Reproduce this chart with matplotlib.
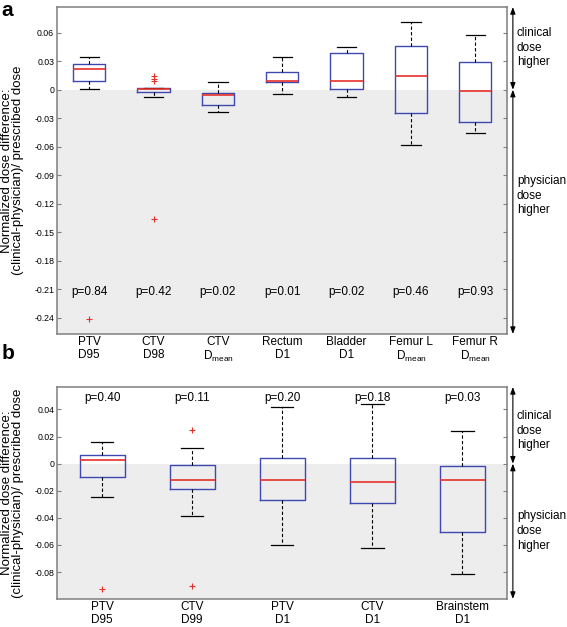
import matplotlib
matplotlib.use('Agg')
import matplotlib.pyplot as plt
import numpy as np

plt.rcParams['font.family'] = ['Liberation Sans', 'DejaVu Sans']
plt.rcParams['mathtext.fontset'] = 'custom'
plt.rcParams['mathtext.rm'] = 'Liberation Sans'
plt.rcParams['mathtext.it'] = 'Liberation Sans:italic'
plt.rcParams['axes.unicode_minus'] = False

# panel a data
labels_a = ['PTV\nD95', 'CTV\nD98', 'CTV\nD$_{\\mathrm{mean}}$', 'Rectum\nD1',
            'Bladder\nD1', 'Femur L\nD$_{\\mathrm{mean}}$', 'Femur R\nD$_{\\mathrm{mean}}$']
med_a = [0.022, 0.001, -0.006, 0.009, 0.009, 0.014, -0.0015]
q1_a = [0.009, -0.002, -0.016, 0.008, 0.0003, -0.025, -0.034]
q3_a = [0.0275, 0.002, -0.0036, 0.019, 0.039, 0.046, 0.029]
wlo_a = [0.001, -0.008, -0.023, -0.005, -0.008, -0.058, -0.046]
whi_a = [0.0345, 0.002, 0.0077, 0.034, 0.045, 0.0717, 0.058]
fliers_a = [[-0.241], [0.014, 0.0117, 0.009, -0.136], [], [], [], [], []]
pvals_a = ['0.84', '0.42', '0.02', '0.01', '0.02', '0.46', '0.93']
yticks_a = [-0.24, -0.21, -0.18, -0.15, -0.12, -0.09, -0.06, -0.03, 0, 0.03, 0.06]
yticklabels_a = ['-0.24', '-0.21', '-0.18', '-0.15', '-0.12', '-0.09', '-0.06',
                 '-0.03', '0', '0.03', '0.06']

# panel b data
labels_b = ['PTV\nD95', 'CTV\nD99', 'PTV\nD1', 'CTV\nD1', 'Brainstem\nD1']
med_b = [0.0024, -0.0123, -0.012, -0.0132, -0.0118]
q1_b = [-0.0101, -0.0184, -0.0265, -0.0287, -0.0506]
q3_b = [0.0066, -0.0012, 0.0039, 0.0042, -0.0015]
wlo_b = [-0.0248, -0.0383, -0.0604, -0.0623, -0.0812]
whi_b = [0.016, 0.0115, 0.042, 0.0437, 0.0241]
fliers_b = [[-0.0922], [0.025, -0.0903], [], [], []]
pvals_b = ['0.40', '0.11', '0.20', '0.18', '0.03']
yticks_b = [-0.08, -0.06, -0.04, -0.02, 0, 0.02, 0.04]
yticklabels_b = ['-0.08', '-0.06', '-0.04', '-0.02', '0', '0.02', '0.04']

box_col = '#3f48b0'
med_col = '#e8302a'
spine_col = '#7f7f7f'
shade_col = '#ededed'
ylab = 'Normalized dose difference:\n(clinical-physician)/ prescribed dose'


def make_stats(labels, med, q1, q3, wlo, whi, fliers):
    stats = []
    for i in range(len(labels)):
        stats.append(dict(med=med[i], q1=q1[i], q3=q3[i], whislo=wlo[i],
                          whishi=whi[i], fliers=fliers[i], label=labels[i]))
    return stats


def draw_panel(ax, stats, pvals, ylim, yticks, yticklabels, ptext_y,
               clin_y, phys_y, capw):
    n = len(stats)
    ax.axhspan(ylim[0], 0, color=shade_col, zorder=0, lw=0)
    ax.bxp(stats, widths=0.5, capwidths=capw, manage_ticks=True,
           boxprops=dict(color=box_col, lw=1.0),
           medianprops=dict(color=med_col, lw=1.2),
           whiskerprops=dict(color='black', lw=0.8, linestyle=(0, (3, 2))),
           capprops=dict(color='black', lw=0.9),
           flierprops=dict(marker='+', markeredgecolor=med_col,
                           markersize=4, markeredgewidth=0.8))
    ax.set_xlim(0.5, n + 0.5)
    ax.set_ylim(*ylim)
    ax.set_yticks(yticks)
    ax.set_yticklabels(yticklabels, fontsize=6.3)
    ax.tick_params(axis='y', direction='in', length=3, color=spine_col,
                   right=True, pad=2)
    ax.tick_params(axis='x', length=0, labelsize=8.5, pad=1.5)
    for t in ax.get_xticklabels():
        t.set_linespacing(1.1)
    for s in ax.spines.values():
        s.set_color(spine_col)
        s.set_linewidth(1.1)
    for i, p in enumerate(pvals):
        ax.text(i + 1, ptext_y, 'p=' + p, ha='center', va='center', fontsize=8.5)
    # side arrows
    tr = ('axes fraction', 'data')
    ax.annotate('', xy=(1.012, ylim[1]), xytext=(1.012, 0), xycoords=tr,
                textcoords=tr,
                arrowprops=dict(arrowstyle='<|-|>,head_length=0.4,head_width=0.15',
                                color='black', lw=0.8, shrinkA=0, shrinkB=0))
    ax.annotate('', xy=(1.012, ylim[0]), xytext=(1.012, 0), xycoords=tr,
                textcoords=tr,
                arrowprops=dict(arrowstyle='<|-|>,head_length=0.4,head_width=0.15',
                                color='black', lw=0.8, shrinkA=0, shrinkB=0))
    ax.annotate('clinical\ndose\nhigher', xy=(1.021, clin_y), xycoords=tr,
                ha='left', va='top', fontsize=8.5, linespacing=1.3)
    ax.annotate('physician\ndose\nhigher', xy=(1.021, phys_y), xycoords=tr,
                ha='left', va='top', fontsize=8.5, linespacing=1.3)
    # y label, centred on the panel
    ax.text(-0.099, 0.5, ylab, transform=ax.transAxes, rotation=90,
            ha='center', va='center', fontsize=9.5, linespacing=0.85)


fig = plt.figure(figsize=(5.67, 6.27), dpi=100)
ax_a = fig.add_axes([0.1005, 0.4673, 0.7945, 0.5215])
ax_b = fig.add_axes([0.1005, 0.0447, 0.7945, 0.3381])

draw_panel(ax_a, make_stats(labels_a, med_a, q1_a, q3_a, wlo_a, whi_a, fliers_a),
           pvals_a, (-0.257, 0.087), yticks_a, yticklabels_a, -0.213,
           0.066, -0.0898, 0.3)
draw_panel(ax_b, make_stats(labels_b, med_b, q1_b, q3_b, wlo_b, whi_b, fliers_b),
           pvals_b, (-0.0999, 0.0566), yticks_b, yticklabels_b, 0.0484,
           0.0397, -0.0344, 0.25)

fig.text(0.003, 0.998, 'a', fontsize=15, fontweight='bold', ha='left', va='top')
fig.text(0.003, 0.452, 'b', fontsize=15, fontweight='bold', ha='left', va='top')

fig.savefig('out.png', dpi=100)
